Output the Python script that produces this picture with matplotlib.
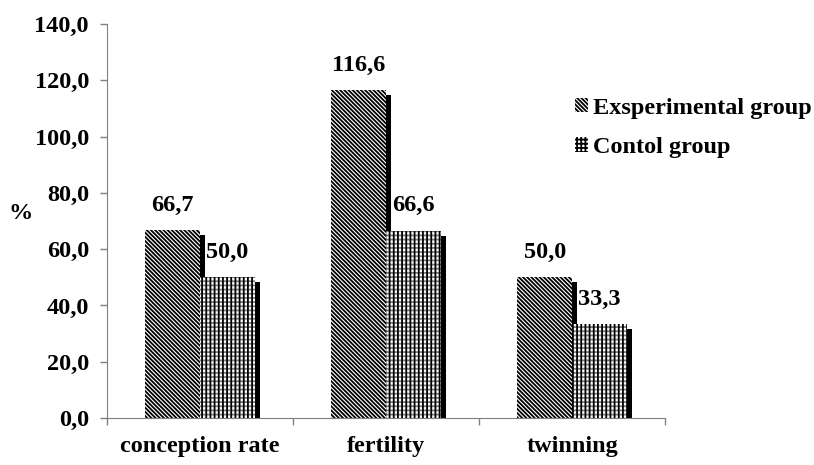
import matplotlib.pyplot as plt
import matplotlib.transforms as mtransforms
from matplotlib.patches import Patch
import numpy as np

plt.rcParams['font.family'] = ['Liberation Serif', 'DejaVu Serif']
plt.rcParams['font.weight'] = 'bold'
plt.rcParams['hatch.linewidth'] = 1.3

categories = ['conception rate', 'fertility', 'twinning']
experimental = [66.7, 116.6, 50.0]
control = [50.0, 66.6, 33.3]
series_names = ['Exsperimental group', 'Contol group']
yticks = [0, 20, 40, 60, 80, 100, 120, 140]

FS = 17.5
hatch_e = '\\' * 8

fig = plt.figure(figsize=(8.14, 4.65), dpi=100)
ax = fig.add_axes([0.1314, 0.1011, 0.6856, 0.8469])

x = np.arange(len(categories))
w = 0.295
off_e, off_c = -0.147, 0.148

# black "3d" shadow, shifted right and down
shadow = ax.transData + mtransforms.ScaledTranslation(5 / 100, -5 / 100, fig.dpi_scale_trans)
ax.bar(x + off_e, experimental, w, color='black', transform=shadow, zorder=1)
ax.bar(x + off_c, control, w, color='black', transform=shadow, zorder=1)

ax.bar(x + off_e, experimental, w, facecolor='white', edgecolor='black',
       hatch=hatch_e, linewidth=0, zorder=2)
ax.bar(x + off_c, control, w, facecolor='white', edgecolor='#7a7a7a',
       hatch='----', linewidth=0, zorder=3)
ax.bar(x + off_c, control, w, facecolor='none', edgecolor='black',
       hatch='||||', linewidth=0, zorder=3)

for xi, v in zip(x, experimental):
    ax.annotate(f'{v:.1f}'.replace('.', ','), (xi + off_e, v), xytext=(0, 18),
                textcoords='offset points', ha='center', va='center',
                fontsize=FS, fontweight='bold')
for xi, v in zip(x, control):
    ax.annotate(f'{v:.1f}'.replace('.', ','), (xi + off_c, v), xytext=(0, 18),
                textcoords='offset points', ha='center', va='center',
                fontsize=FS, fontweight='bold')

ax.set_xlim(-0.5, 2.5)
ax.set_ylim(0, 140)
ax.set_yticks(yticks)
ax.set_yticklabels([f'{t:.1f}'.replace('.', ',') for t in yticks], fontsize=FS)
ax.set_xticks([-0.5, 0.5, 1.5, 2.5])
ax.set_xticklabels([])
ax.set_xticks(x, minor=True)
ax.set_xticklabels(categories, minor=True, fontsize=FS)
ax.tick_params(axis='x', which='minor', length=0, pad=13)
ax.tick_params(axis='both', which='major', direction='out', length=5, color='#808080', width=1)
ax.tick_params(axis='y', pad=8)

for s in ['top', 'right']:
    ax.spines[s].set_visible(False)
for s in ['left', 'bottom']:
    ax.spines[s].set_color('#808080')

ax.set_ylabel('%', rotation=0, fontsize=FS, fontweight='bold', va='center', ha='center')
ax.yaxis.set_label_coords(-0.155, 0.52)

handles = [Patch(facecolor='white', edgecolor='black', hatch=hatch_e, linewidth=0),
           Patch(facecolor='white', edgecolor='black', hatch='++++', linewidth=0)]
fig.legend(handles, series_names, loc='upper left', bbox_to_anchor=(0.706, 0.79),
           frameon=False, fontsize=FS, handlelength=0.55, handleheight=0.55,
           handletextpad=0.2, labelspacing=0.75, borderaxespad=0, borderpad=0)

fig.savefig('out.png', dpi=100)
